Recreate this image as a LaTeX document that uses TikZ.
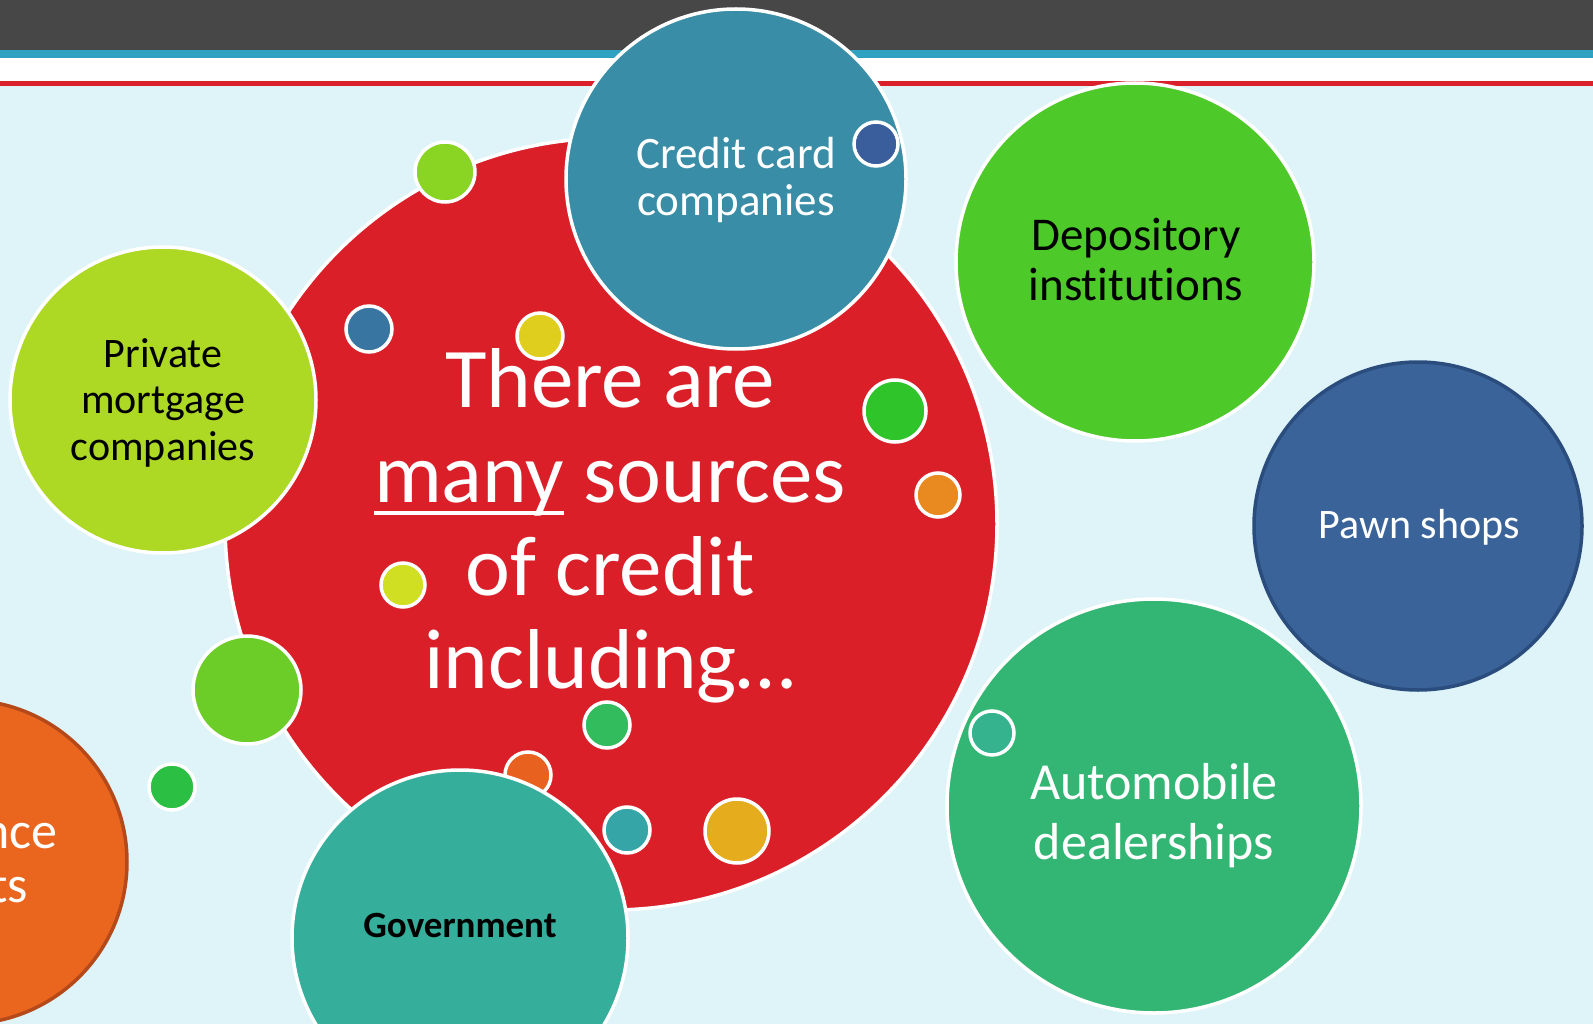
\documentclass[tikz,border=0pt]{standalone}
\usepackage{fontspec}
\setmainfont[Ligatures=NoCommon]{Carlito}
\usepackage{calc}

% colours
\definecolor{barDark}{HTML}{474747}
\definecolor{barBlue}{HTML}{2EA3C1}
\definecolor{barRed}{HTML}{D9202B}
\definecolor{paper}{HTML}{DEF4F8}
\definecolor{bigRed}{HTML}{DA1F29}
\definecolor{cardTeal}{HTML}{398DA6}
\definecolor{depGreen}{HTML}{4DC92A}
\definecolor{pawnBlue}{HTML}{3A6399}
\definecolor{pawnEdge}{HTML}{2B4D7E}
\definecolor{autoGreen}{HTML}{33B673}
\definecolor{govTeal}{HTML}{35AE9B}
\definecolor{mortLime}{HTML}{ADD823}
\definecolor{finOrange}{HTML}{EA661E}
\definecolor{finEdge}{HTML}{B5491A}
\definecolor{dotA}{HTML}{8AD424}
\definecolor{dotB}{HTML}{3875A0}
\definecolor{dotC}{HTML}{E0CE1F}
\definecolor{dotD}{HTML}{3A5D9C}
\definecolor{dotE}{HTML}{2EC42A}
\definecolor{dotF}{HTML}{E98A20}
\definecolor{dotG}{HTML}{D0DF21}
\definecolor{dotH}{HTML}{6CCC28}
\definecolor{dotI}{HTML}{2BBF44}
\definecolor{dotJ}{HTML}{33BC5E}
\definecolor{dotK}{HTML}{E8611F}
\definecolor{dotL}{HTML}{36A5A8}
\definecolor{dotM}{HTML}{E5AC1E}
\definecolor{dotN}{HTML}{35B38F}

% underline drawn as a rule below the word
\newlength\ulwd
\newcommand\ulword[1]{\settowidth\ulwd{#1}\rlap{\rule[-13pt]{\ulwd}{4pt}}#1}

\tikzset{
  bubble/.style 2 args={circle, fill=#1, draw=white, line width=3.5pt,
    minimum size={2*#2pt}, inner sep=0pt},
  label line/.style={anchor=base, inner sep=0pt, text=#1},
  fs/.style={font=\fontsize{#1}{#1}\selectfont},
  fsb/.style={font=\bfseries\fontsize{#1}{#1}\selectfont},
}

\begin{document}
\begin{tikzpicture}[x=1pt, y=-1pt]
\useasboundingbox (0,0) rectangle (1593,1024);
\clip (0,0) rectangle (1593,1024);

% page background and header bands
\fill[paper] (0,0) rectangle (1593,1024);
\fill[barDark] (0,0) rectangle (1593,50);
\fill[barBlue] (0,50) rectangle (1593,58);
\fill[white] (0,58) rectangle (1593,81);
\fill[barRed] (0,81) rectangle (1593,86);

% central bubble
\node[bubble={bigRed}{386}] (core) at (611,524) {};

% small dots on the central bubble
\node[bubble={dotA}{30}] (d1)  at (445,172) {};
\node[bubble={dotB}{23}] (d2)  at (369,329) {};
\node[bubble={dotC}{23}] (d3)  at (540,336) {};
\node[bubble={dotE}{31}] (d5)  at (895,411) {};
\node[bubble={dotF}{22}] (d6)  at (938,495) {};
\node[bubble={dotG}{22}] (d7)  at (403,585) {};
\node[bubble={dotJ}{23}] (d10) at (607,725) {};
\node[bubble={dotK}{23}] (d11) at (528,775) {};
\node[bubble={dotL}{23}] (d12) at (627,830) {};
\node[bubble={dotM}{32}] (d13) at (737,831) {};
\node[bubble={dotH}{54}] (d8)  at (247,690) {};
\node[bubble={dotI}{23}] (d9)  at (172,787) {};

% central text
\node[label line=white, fs=85] (t1) at (610,407) {There are};
\node[label line=white, fs=85] (t2) at (610,502) {\ulword{many} sources};
\node[label line=white, fs=85] (t3) at (610,595) {of credit};
\node[label line=white, fs=85] (t4) at (610,688) {including…};

% credit card companies
\node[bubble={cardTeal}{170}] (card) at (736,179) {};
\node[bubble={dotD}{22}] (d4) at (876,144) {};
\node[label line=white, fs=45] (card1) at (736,169) {Credit card};
\node[label line=white, fs=45] (card2) at (736,216) {companies};

% private mortgage companies
\node[bubble={mortLime}{153}] (mort) at (163,400) {};
\node[label line=black, fs=42] (mort1) at (163,367) {Private};
\node[label line=black, fs=42] (mort2) at (163,413) {mortgage};
\node[label line=black, fs=42] (mort3) at (163,460) {companies};

% government
\node[bubble={govTeal}{168}] (gov) at (460,938) {};
\node[label line=black, fsb=37] (gov1) at (460,937) {Government};

% depository institutions
\node[bubble={depGreen}{179}] (dep) at (1135,262) {};
\node[label line=black, fs=47] (dep1) at (1136,251) {Depository};
\node[label line=black, fs=47] (dep2) at (1136,301) {institutions};

% pawn shops
\node[bubble={pawnBlue}{164}, draw=pawnEdge] (pawn) at (1418,526) {};
\node[label line=white, fs=42] (pawn1) at (1419,538) {Pawn shops};

% automobile dealerships
\node[bubble={autoGreen}{207}] (auto) at (1154,806) {};
\node[bubble={dotN}{22}] (d14) at (992,733) {};
\node[label line=white, fs=52] (auto1) at (1154,799) {Automobile};
\node[label line=white, fs=52] (auto2) at (1154,859) {dealerships};

% bubble running off the left edge
\node[bubble={finOrange}{162}, draw=finEdge] (fin) at (-35,862) {};
\node[anchor=base east, inner sep=0pt, text=white, fs=52] (fin1) at (58,848) {nce};
\node[anchor=base east, inner sep=0pt, text=white, fs=52] (fin2) at (28,902) {ts};
\end{tikzpicture}
\end{document}
